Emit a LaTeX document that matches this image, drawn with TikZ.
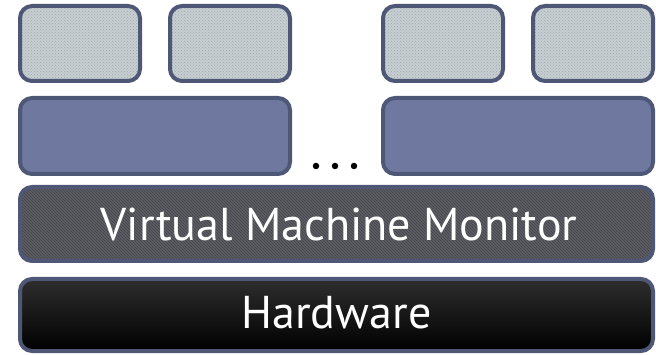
\documentclass[tikz,border=0pt]{standalone}
\usepackage{fontspec}
\setmainfont{PT Sans}
\usetikzlibrary{patterns}
\definecolor{edge}{HTML}{4F5776}
\definecolor{guestfill}{HTML}{C6CED1}
\definecolor{guestdot}{HTML}{9FAAB0}
\definecolor{osfill}{HTML}{6F789E}
\definecolor{vmmfill}{HTML}{5C5C63}
\definecolor{vmmline}{HTML}{46464C}
\tikzset{
  layer/.style={draw=edge, line width=4pt, rounded corners=12pt},
  guesttex/.style={pattern=crosshatch dots, pattern color=guestdot},
  osbox/.style={layer, fill=osfill},
  vmmtex/.style={pattern=north west lines, pattern color=vmmline},
  hw/.style={layer, top color=black!82, bottom color=black},
  label/.style={text=white, font=\fontsize{46}{50}\selectfont},
  dot/.style={circle, fill=black, inner sep=0pt, minimum size=6.5pt}
}
\begin{document}
\begin{tikzpicture}[x=1pt, y=-1pt]
  \useasboundingbox (0,0) rectangle (656,355);
  % guest applications
  \foreach \n/\a/\b in {g1/20/140, g2/170/290, g3/383/503, g4/533/653} {
    \fill[guestfill, rounded corners=12pt] (\a,6) rectangle (\b,81);
    \fill[guesttex, rounded corners=12pt] (\a,6) rectangle (\b,81);
    \draw[layer] (\a,6) rectangle (\b,81) node[coordinate] (\n) {};
  }
  % guest operating systems
  \draw[osbox] (20,98) rectangle (290,174) node[coordinate] (os1) {};
  \draw[osbox] (383,98) rectangle (653,174) node[coordinate] (os2) {};
  \node[dot] (d1) at (316,166) {};
  \node[dot] (d2) at (335,166) {};
  \node[dot] (d3) at (354,166) {};
  % monitor layer
  \fill[vmmfill, rounded corners=12pt] (20,187) rectangle (653,261);
  \fill[vmmtex, rounded corners=12pt] (20,187) rectangle (653,261);
  \draw[layer] (20,187) rectangle (653,261);
  \node[label] (vmm) at (339,224) {Virtual Machine Monitor};
  % hardware layer
  \draw[hw] (20,279) rectangle (653,351);
  \node[label] (hw) at (336.5,313) {Hardware};
\end{tikzpicture}
\end{document}
